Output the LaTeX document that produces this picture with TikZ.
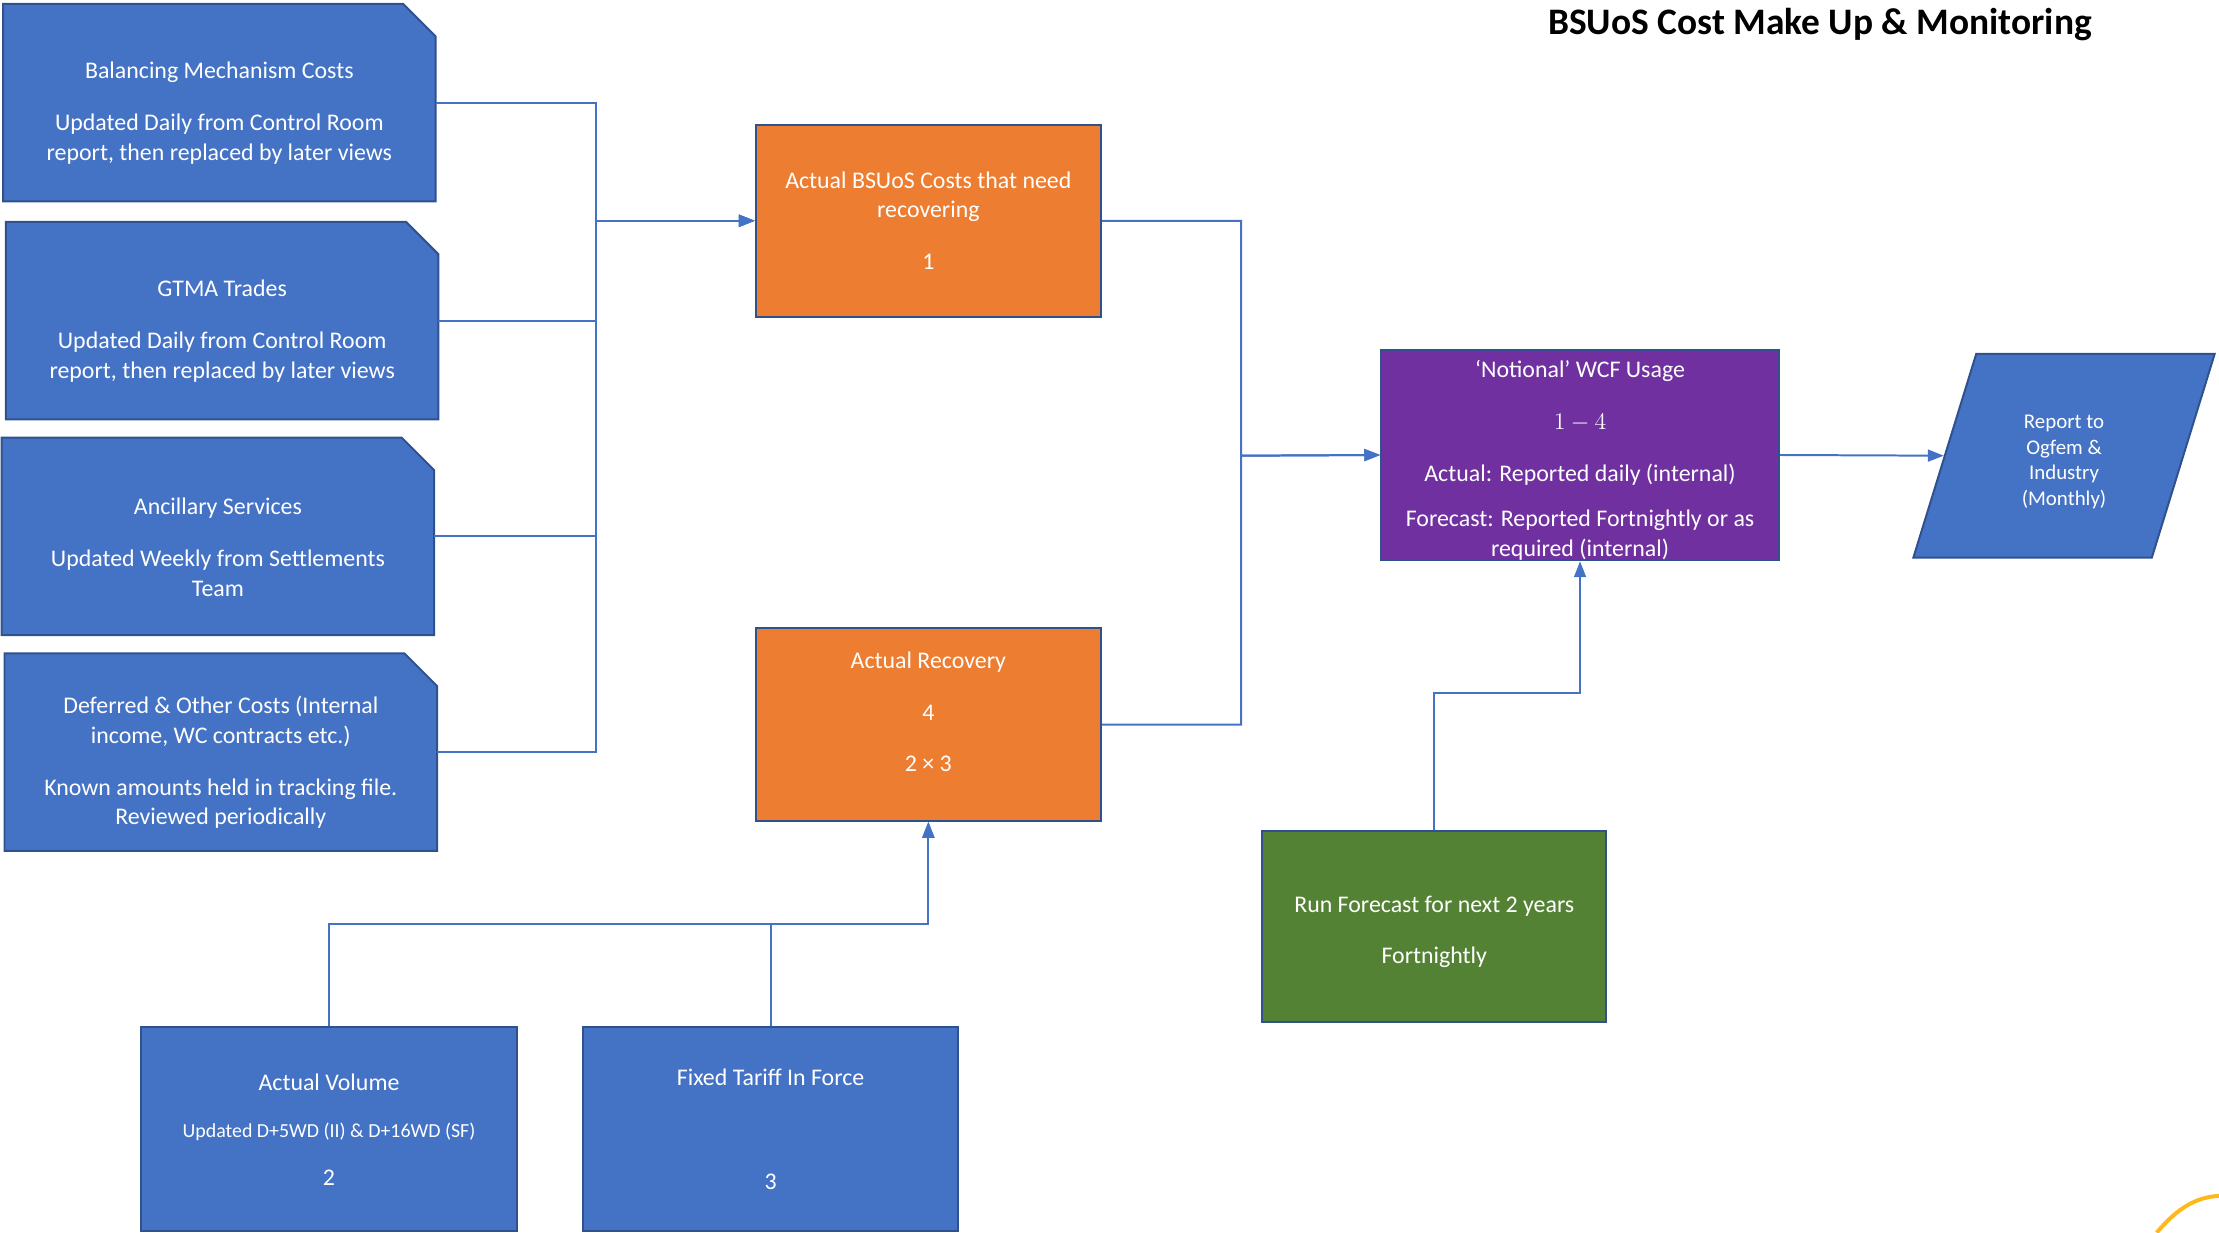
\documentclass[tikz,border=0pt]{standalone}
\usepackage{fontspec}
\setmainfont{Carlito}
\usetikzlibrary{arrows.meta, backgrounds, shapes.geometric}

\definecolor{boxblue}{HTML}{4472C4}
\definecolor{edgeblue}{HTML}{2F528F}
\definecolor{boxorange}{HTML}{ED7D31}
\definecolor{boxpurple}{HTML}{7030A0}
\definecolor{boxgreen}{HTML}{548235}
\definecolor{logoyellow}{HTML}{FFB81C}

% extra room above / below a node's text
\newcommand{\dropby}[1]{\rule{0pt}{#1}}
\newcommand{\liftby}[1]{\rule[-#1]{0pt}{#1}}

\begin{document}
\begin{tikzpicture}[x=0.025cm, y=-0.025cm]
        \tikzstyle{txt} = [text=white, align=center, font=\fontsize{12}{14.9}\selectfont]
        \tikzstyle{src} = [txt, minimum width=7.625cm, minimum height=3.475cm, inner sep=0pt]
        \tikzstyle{stage} = [txt, draw=edgeblue, line width=1pt, inner sep=0pt]
        \tikzstyle{flow} = [-{Triangle[length=8pt, width=6pt]}, draw=boxblue, line width=1pt]
        \useasboundingbox (0,0) rectangle (1568,871);
        \node[font=\bfseries\fontsize{18.8}{22}\selectfont] (TTL) at (1286,17) {BSUoS Cost Make Up \& Monitoring};
        % cost sources
        \node[src] (BM) at (155,72.5) {\dropby{19pt}Balancing Mechanism Costs\\[11.3pt]Updated Daily from Control Room\\report, then replaced by later views};
        \node[src] (GT) at (157,226.5) {\dropby{19pt}GTMA Trades\\[11.3pt]Updated Daily from Control Room\\report, then replaced by later views};
        \node[src] (AS) at (154,379) {\dropby{19pt}Ancillary Services\\[11.3pt]Updated Weekly from Settlements\\Team};
        \node[src] (DC) at (156,531.5) {\dropby{19pt}Deferred \& Other Costs (Internal\\income, WC contracts etc.)\\[11.3pt]Known amounts held in tracking file.\\Reviewed periodically};
        \begin{scope}[on background layer]
            \foreach \b in {BM,GT,AS,DC}
                \filldraw[fill=boxblue, draw=edgeblue, line width=1pt] (\b.south west) -- (\b.north west) -- ([xshift=-0.575cm]\b.north east) -- ([yshift=-0.575cm]\b.north east) -- (\b.south east) -- cycle;
        \end{scope}
        \node[stage, fill=boxorange, minimum width=6.1cm, minimum height=3.4cm] (AC) at (656,156) {Actual BSUoS Costs that need\\recovering\\[11.3pt]1};
        \node[stage, fill=boxorange, minimum width=6.1cm, minimum height=3.4cm] (AR) at (656,512) {Actual Recovery\\[11.3pt]4\\[11pt]2 × 3\liftby{13pt}};
        \node[stage, fill=boxpurple, minimum width=7.025cm, minimum height=3.625cm] (WCF) at (1116.5,321.5) {\dropby{14pt}‘Notional’ WCF Usage\\[11.3pt]$1-4$\\[11.3pt]Actual: Reported daily (internal)\\[7.7pt]Forecast: Reported Fortnightly or as\\required (internal)};
        \node[stage, fill=boxblue, trapezium, trapezium left angle=74, trapezium right angle=106, trapezium stretches=true, minimum width=5.325cm, minimum height=3.6cm, font=\fontsize{10.5}{12.8}\selectfont] (RPT) at (1458.5,322) {\dropby{13pt}Report to\\Ogfem \&\\Industry\\(Monthly)};
        \node[stage, fill=boxgreen, minimum width=6.075cm, minimum height=3.375cm] (FC) at (1013.5,654.5) {\dropby{14pt}Run Forecast for next 2 years\\[11pt]Fortnightly};
        \node[stage, fill=boxblue, minimum width=6.625cm, minimum height=3.6cm] (AV) at (232.5,798) {Actual Volume\\[9pt]{\fontsize{10}{12}\selectfont Updated D+5WD (II) \& D+16WD (SF)}\\[9pt]2};
        \node[stage, fill=boxblue, minimum width=6.625cm, minimum height=3.6cm] (FT) at (544.5,798) {Fixed Tariff In Force\\[37.5pt]3};
        % connectors
        \coordinate (BUSL) at (421,156);
        \coordinate (BUSR) at (877,322);
        \coordinate (BUSG) at (1013.5,490);
        \coordinate (BUSB) at (656,653);
        \foreach \b in {BM,GT,AS,DC}
            \draw[flow] (\b.east) -| (BUSL) -- (AC.west);
        \draw[flow] (AC.east) -| (BUSR) -- (WCF.west);
        \draw[flow] (AR.east) -| (BUSR) -- (WCF.west);
        \draw[flow] (WCF.east) -- (RPT.west);
        \draw[flow] (FC.north) -- (BUSG) -| (WCF.south);
        \draw[flow] (AV.north) |- (BUSB) -- (AR.south);
        \draw[flow] (FT.north) |- (BUSB) -- (AR.south);
        \draw[logoyellow, line width=2pt] (1524,871) .. controls (1540,852) and (1553,846) .. (1568,845);
    \end{tikzpicture}
\end{document}
